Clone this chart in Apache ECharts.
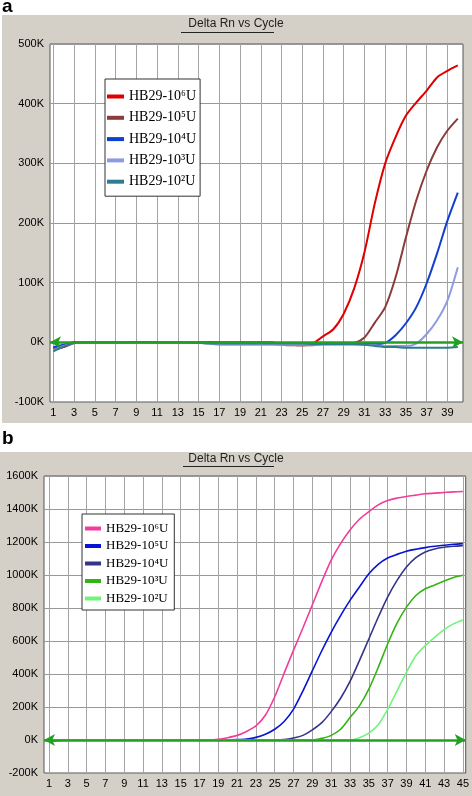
<!DOCTYPE html>
<html>
<head>
<meta charset="utf-8">
<script src="https://cdn.jsdelivr.net/npm/echarts@6/dist/echarts.min.js"></script>
<style>
html,body{margin:0;padding:0;background:#fff;}
#chart{width:472px;height:796px;}
</style>
</head>
<body>
<div id="chart"></div>
<script>
// ---------- Panel a ----------
const cyclesA = [1,2,3,4,5,6,7,8,9,10,11,12,13,14,15,16,17,18,19,20,21,22,23,24,25,26,27,28,29,30,31,32,33,34,35,36,37,38,39,40];
const xTicksA = [1,3,5,7,9,11,13,15,17,19,21,23,25,27,29,31,33,35,37,39];
const namesA = ['HB29-10⁶U','HB29-10⁵U','HB29-10⁴U','HB29-10³U','HB29-10²U'];
// values in K
const a1e6 = [-12,-8,-1,0,0,0,0,0,0,0, 0,0,0,0,-1,0,0,0,0,0, 0,0,-3,-4,-5,-2,10,22,48,90, 151,233,300,344,380,402,422,444,455,464];
const a1e5 = [-10,-5,0,0,0,0,0,0,0,0, 0,0,0,0,-1,-1,-2,-2,-2,-2, -3,-3,-4,-5,-5,-5,-3,-2,-2,-1, 8,33,59,109,176,238,288,327,355,375];
const a1e4 = [-8,-4,0,0,0,0,0,0,0,0, 0,0,0,0,0,0,-1,-1,-1,-1, -1,-2,-2,-2,-2,-2,-2,-2,-2,-2, -2,-3,-1,12,32,59,99,149,204,251];
const a1e3 = [-13,-6,-1,0,0,0,0,0,-1,-1, 0,0,0,0,-1,-2,-4,-4,-4,-4, -4,-4,-4,-4,-4,-4,-4,-4,-4,-4, -4,-5,-6,-6,-6,-2,14,37,70,126];
const a1e2 = [-15,-7,-1,0,0,0,0,0,0,0, 0,0,0,0,-1,-2,-2,-2,-2,-2, -2,-2,-2,-2,-2,-3,-3,-3,-3,-3, -4,-6,-8,-8,-9,-9,-9,-9,-9,-8];
const valuesA = [a1e6,a1e5,a1e4,a1e3,a1e2];
const colorsA = ['#e00000','#8b3c3a','#1040d0','#8c9ce2','#2e7d8c'];

// ---------- Panel b ----------
const cyclesB = [1,2,3,4,5,6,7,8,9,10,11,12,13,14,15,16,17,18,19,20,21,22,23,24,25,26,27,28,29,30,31,32,33,34,35,36,37,38,39,40,41,42,43,44,45];
const xTicksB = [1,3,5,7,9,11,13,15,17,19,21,23,25,27,29,31,33,35,37,39,41,43,45];
const namesB = ['HB29-10⁶U','HB29-10⁵U','HB29-10⁴U','HB29-10³U','HB29-10²U'];
const b1e6 = [-10,-5,0,0,0,0,0,0,0,0, 0,0,0,0,0,0,0,0,4,14, 28,52,85,150,262,405,545,680,820,960, 1090,1190,1273,1338,1384,1425,1451,1466,1476,1484, 1492,1496,1500,1504,1506];
const b1e5 = [0,0,0,0,0,0,0,0,0,0, 0,0,0,0,0,0,0,0,0,0, 2,6,16,35,65,112,187,298,420,541, 653,754,846,927,1008,1065,1103,1125,1144,1156, 1166,1174,1180,1186,1190];
const b1e4 = [0,0,0,0,0,0,0,0,0,0, 0,0,0,0,0,0,0,0,0,0, 0,0,0,0,0,2,12,28,61,105, 172,253,355,481,612,744,866,967,1048,1105, 1140,1158,1168,1174,1178];
const b1e3 = [0,0,0,0,0,0,0,0,0,0, 0,0,0,0,0,0,0,0,0,0, 0,0,0,0,0,0,0,0,0,10, 28,65,136,207,308,440,582,708,805,876, 917,940,963,985,998];
const b1e2 = [0,0,0,0,0,0,0,0,0,0, 0,0,0,0,0,0,0,0,0,0, 0,0,0,0,0,0,0,0,0,0, 0,0,0,14,42,92,185,298,410,511, 572,622,669,704,728];
const valuesB = [b1e6,b1e5,b1e4,b1e3,b1e2];
const colorsB = ['#f23c9c','#0814d4','#343488','#34b414','#70f47c'];

const titleText = 'Delta Rn vs Cycle';
const panelLabels = ['a','b'];

const chart = echarts.init(document.getElementById('chart'), null, {renderer:'canvas'});
const kFmt = v => (v/1000) + 'K';
const labelFont = {fontFamily:'Liberation Sans, Arial, sans-serif', fontSize:11, color:'#000'};
const threshold = {
  silent:true, symbol:['arrow','arrow'], symbolSize:[9,11],
  lineStyle:{color:'#22a022', width:2.5, type:'solid'},
  label:{show:false}, data:[{yAxis:0}]
};

const series = [];
valuesA.forEach((vals,i)=>{
  series.push({
    name:'a:'+namesA[i], type:'line', xAxisIndex:0, yAxisIndex:0,
    data: cyclesA.map((c,j)=>[c, vals[j]*1000]),
    showSymbol:false, smooth:0.25, color:colorsA[i],
    lineStyle:{width:2, color:colorsA[i]}, z:3,
    markLine: i===valuesA.length-1 ? threshold : undefined
  });
});
valuesB.forEach((vals,i)=>{
  series.push({
    name:'b:'+namesB[i], type:'line', xAxisIndex:1, yAxisIndex:1,
    data: cyclesB.map((c,j)=>[c, vals[j]*1000]),
    showSymbol:false, smooth:0.25, color:colorsB[i],
    lineStyle:{width:1.6, color:colorsB[i]}, z:3,
    markLine: i===valuesB.length-1 ? threshold : undefined
  });
});

const legendText = {fontFamily:'Liberation Serif, DejaVu Serif, serif', color:'#000'};

chart.setOption({
  animation:false,
  backgroundColor:'#fff',
  graphic:[
    {type:'rect', shape:{x:2,y:15,width:470,height:408}, style:{fill:'#d4d0c8'}, z:-10},
    {type:'rect', shape:{x:0,y:452,width:472,height:344}, style:{fill:'#d4d0c8'}, z:-10},
    {type:'text', left:2, top:-3, style:{text:panelLabels[0], font:'bold 19px Liberation Sans, Arial, sans-serif', fill:'#000'}},
    {type:'text', left:2, top:429, style:{text:panelLabels[1], font:'bold 19px Liberation Sans, Arial, sans-serif', fill:'#000'}},
    {type:'line', shape:{x1:181,y1:32.5,x2:274,y2:32.5}, style:{stroke:'#222', lineWidth:1}},
    {type:'line', shape:{x1:183,y1:466.5,x2:274,y2:466.5}, style:{stroke:'#222', lineWidth:1}}
  ],
  title:[
    {text:titleText, left:'center', top:18, padding:0, textStyle:{fontFamily:'Liberation Sans, Arial, sans-serif', fontSize:12, fontWeight:'normal', color:'#222'}},
    {text:titleText, left:'center', top:452.5, padding:0, textStyle:{fontFamily:'Liberation Sans, Arial, sans-serif', fontSize:12, fontWeight:'normal', color:'#222'}}
  ],
  legend:[
    {
      data: namesA.map(n=>'a:'+n), orient:'vertical', left:105, top:79,
      formatter: n => n.slice(2),
      icon:'rect', itemWidth:17, itemHeight:4, itemGap:7.3,
      padding:[10.5,4,7.5,2], backgroundColor:'#fff', borderColor:'#333', borderWidth:1,
      textStyle:Object.assign({fontSize:14, lineHeight:14}, legendText),
      selectedMode:false
    },
    {
      data: namesB.map(n=>'b:'+n), orient:'vertical', left:82, top:514,
      formatter: n => n.slice(2),
      icon:'rect', itemWidth:16, itemHeight:4, itemGap:4.5,
      padding:[8,6,5,3], backgroundColor:'#fff', borderColor:'#333', borderWidth:1,
      textStyle:Object.assign({fontSize:13, lineHeight:12}, legendText),
      selectedMode:false
    }
  ],
  grid:[
    {left:50, top:44, width:413, height:358, show:true, backgroundColor:'#fff', borderColor:'#555', borderWidth:1},
    {left:44, top:476, width:422, height:297, show:true, backgroundColor:'#fff', borderColor:'#555', borderWidth:1}
  ],
  xAxis:[
    {type:'value', gridIndex:0, min:0.68, max:40.5,
     axisLine:{show:false},
     axisTick:{show:false, customValues:xTicksA},
     axisLabel:Object.assign({customValues:xTicksA, margin:5}, labelFont),
     splitLine:{show:true, lineStyle:{color:'#a4a4a4', width:1}}},
    {type:'value', gridIndex:1, min:0.47, max:45.3,
     axisLine:{show:false},
     axisTick:{show:false, customValues:xTicksB},
     axisLabel:Object.assign({customValues:xTicksB, margin:5}, labelFont),
     splitLine:{show:true, lineStyle:{color:'#a4a4a4', width:1}}}
  ],
  yAxis:[
    {type:'value', gridIndex:0, min:-100000, max:500000, interval:100000,
     axisLine:{show:false}, axisTick:{show:false},
     axisLabel:Object.assign({formatter:kFmt, margin:6}, labelFont),
     splitLine:{show:true, lineStyle:{color:'#989898', width:1}}},
    {type:'value', gridIndex:1, min:-200000, max:1600000, interval:200000,
     axisLine:{show:false}, axisTick:{show:false},
     axisLabel:Object.assign({formatter:kFmt, margin:6}, labelFont),
     splitLine:{show:true, lineStyle:{color:'#989898', width:1}}}
  ],
  series: series
});
</script>
</body>
</html>
